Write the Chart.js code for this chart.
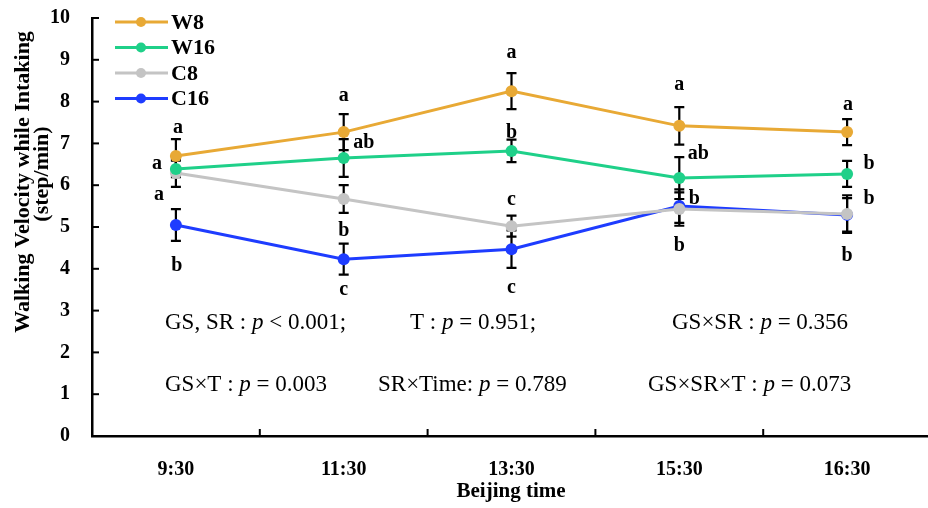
<!DOCTYPE html>
<html><head><meta charset="utf-8">
<script src="https://cdn.jsdelivr.net/npm/chart.js@4.4.1/dist/chart.umd.min.js"></script>
<style>
html,body{margin:0;padding:0;background:#fff;overflow:hidden;}
#wrap{width:937px;height:508px;position:relative;}
</style></head>
<body><div id="wrap"><canvas id="c" width="937" height="508"></canvas></div>
<script>
// ---- data ----
const categories = ["9:30", "11:30", "13:30", "15:30", "16:30"];
const seriesNames = ["W8", "W16", "C8", "C16"];
const W8  = [6.70, 7.27, 8.25, 7.42, 7.27];
const W16 = [6.39, 6.65, 6.82, 6.17, 6.27];
const C8  = [6.29, 5.67, 5.02, 5.43, 5.31];
const C16 = [5.05, 4.23, 4.47, 5.50, 5.29];
const errW8  = [0.40, 0.43, 0.43, 0.45, 0.31];
const errW16 = [0.20, 0.45, 0.27, 0.50, 0.31];
const errC8  = [0.33, 0.33, 0.25, 0.40, 0.45];
const errC16 = [0.38, 0.37, 0.45, 0.40, 0.40];
const lettersW8  = ["a", "a", "a", "a", "a"];
const lettersW16 = ["a", "ab", "b", "ab", "b"];
const lettersC8  = ["a", "b", "c", "b", "b"];
const lettersC16 = ["b", "c", "c", "b", "b"];
const yTicks = [0,1,2,3,4,5,6,7,8,9,10];
const statsRow1 = [["GS, SR : ", "p", " < 0.001;"], ["T : ", "p", " = 0.951;"], ["GS×SR : ", "p", " = 0.356"]];
const statsRow2 = [["GS×T : ", "p", " = 0.003"], ["SR×Time: ", "p", " = 0.789"], ["GS×SR×T : ", "p", " = 0.073"]];
const yTitle = ["Walking Velocity while Intaking", "(step/min)"];
const xTitle = "Beijing time";

// ---- layout / style (not data) ----
const colors = ["#E8A935", "#1FD089", "#C4C4C4", "#1E3CFF"];
const letterOffsets = [
  [[2,-28],[0,-36],[0,-38],[0,-41],[1,-27]],
  [[-19,-5],[20,-15],[0,-18],[19,-24],[22,-10]],
  [[-17,22],[0,32],[0,-26],[0,37],[22,-15]],
  [[1,41],[0,31],[0,39],[15,-7],[0,41]]
];
const statsX1 = [165, 410, 672];
const statsX2 = [165, 378, 648];
const SERIF = "'Liberation Serif', 'DejaVu Serif', serif";

const values = [W8, W16, C8, C16];
const errs = [errW8, errW16, errC8, errC16];
const letters = [lettersW8, lettersW16, lettersC8, lettersC16];

const decor = {
  id: 'decor',
  beforeDatasetsDraw(chart) {
    const ctx = chart.ctx, x = chart.scales.x, y = chart.scales.y;
    ctx.save();
    ctx.strokeStyle = '#000'; ctx.lineWidth = 2.2;
    values.forEach((arr, s) => {
      arr.forEach((v, i) => {
        const px = x.getPixelForValue(i);
        const top = y.getPixelForValue(v + errs[s][i]);
        const bot = y.getPixelForValue(v - errs[s][i]);
        ctx.beginPath();
        ctx.moveTo(px, top); ctx.lineTo(px, bot);
        ctx.moveTo(px - 5, top); ctx.lineTo(px + 5, top);
        ctx.moveTo(px - 5, bot); ctx.lineTo(px + 5, bot);
        ctx.stroke();
      });
    });
    ctx.restore();
  },
  afterDraw(chart) {
    const ctx = chart.ctx, x = chart.scales.x, y = chart.scales.y, ca = chart.chartArea;
    ctx.save();
    ctx.strokeStyle = '#000'; ctx.lineWidth = 2;
    yTicks.forEach(t => {
      const py = y.getPixelForValue(t);
      ctx.beginPath(); ctx.moveTo(ca.left, py); ctx.lineTo(ca.left + 7, py); ctx.stroke();
    });
    for (let i = 1; i < categories.length; i++) {
      const px = (x.getPixelForValue(i - 1) + x.getPixelForValue(i)) / 2;
      ctx.beginPath(); ctx.moveTo(px, ca.bottom); ctx.lineTo(px, ca.bottom - 7); ctx.stroke();
    }
    ctx.fillStyle = '#000';
    ctx.font = "bold 20px " + SERIF;
    ctx.textAlign = 'center'; ctx.textBaseline = 'middle';
    letters.forEach((arr, s) => {
      arr.forEach((l, i) => {
        const px = x.getPixelForValue(i), py = y.getPixelForValue(values[s][i]);
        const o = letterOffsets[s][i];
        ctx.fillText(l, px + o[0], py + o[1]);
      });
    });
    ctx.textAlign = 'left';
    const drawStat = (parts, sx, sy) => {
      let cx = sx;
      parts.forEach((p, k) => {
        ctx.font = (k === 1 ? "italic " : "") + "23px " + SERIF;
        ctx.fillText(p, cx, sy);
        cx += ctx.measureText(p).width;
      });
    };
    statsRow1.forEach((p, i) => drawStat(p, statsX1[i], 323));
    statsRow2.forEach((p, i) => drawStat(p, statsX2[i], 385));
    ctx.font = "bold 22px " + SERIF;
    seriesNames.forEach((n, s) => {
      const ly = 22 + s * 25.5;
      ctx.strokeStyle = colors[s]; ctx.lineWidth = 3;
      ctx.beginPath(); ctx.moveTo(115, ly); ctx.lineTo(168, ly); ctx.stroke();
      ctx.fillStyle = colors[s];
      ctx.beginPath(); ctx.arc(141, ly, 5, 0, Math.PI * 2); ctx.fill();
      ctx.fillStyle = '#000';
      ctx.fillText(n, 171, ly + 1);
    });
    ctx.textAlign = 'center';
    ctx.font = "bold 21px " + SERIF;
    ctx.fillText(xTitle, 511, 492);
    ctx.save();
    ctx.font = "bold 22px " + SERIF;
    ctx.translate(23, 182); ctx.rotate(-Math.PI / 2);
    ctx.fillText(yTitle[0], 0, 0);
    ctx.fillText(yTitle[1], 8, 19);
    ctx.restore();
    ctx.restore();
  }
};

new Chart(document.getElementById('c'), {
  type: 'line',
  data: {
    labels: categories,
    datasets: values.map((v, s) => ({
      label: seriesNames[s], data: v,
      borderColor: colors[s], backgroundColor: colors[s],
      borderWidth: 3, pointRadius: 6, pointHoverRadius: 6,
      pointBorderWidth: 0, tension: 0
    }))
  },
  options: {
    responsive: false, animation: false,
    layout: { padding: { top: 18, right: 0, left: 0, bottom: 0 } },
    plugins: { legend: { display: false }, tooltip: { enabled: false } },
    scales: {
      x: {
        type: 'category', offset: true,
        grid: { display: false, drawTicks: false },
        border: { display: true, color: '#000', width: 2.5 },
        ticks: { color: '#000', padding: 22, font: { family: SERIF, size: 20, weight: 'bold' } },
        afterFit(s) { s.height = 72; s.paddingLeft = 0; s.paddingRight = 0; }
      },
      y: {
        min: 0, max: 10,
        afterBuildTicks(s) { s.ticks = yTicks.map(v => ({ value: v })); },
        grid: { display: false, drawTicks: false },
        border: { display: true, color: '#000', width: 2.5 },
        ticks: { color: '#000', padding: 22, font: { family: SERIF, size: 20, weight: 'bold' } },
        afterFit(s) { s.width = 92; s.paddingTop = 0; s.paddingBottom = 0; }
      }
    }
  },
  plugins: [decor]
});
</script></body></html>
